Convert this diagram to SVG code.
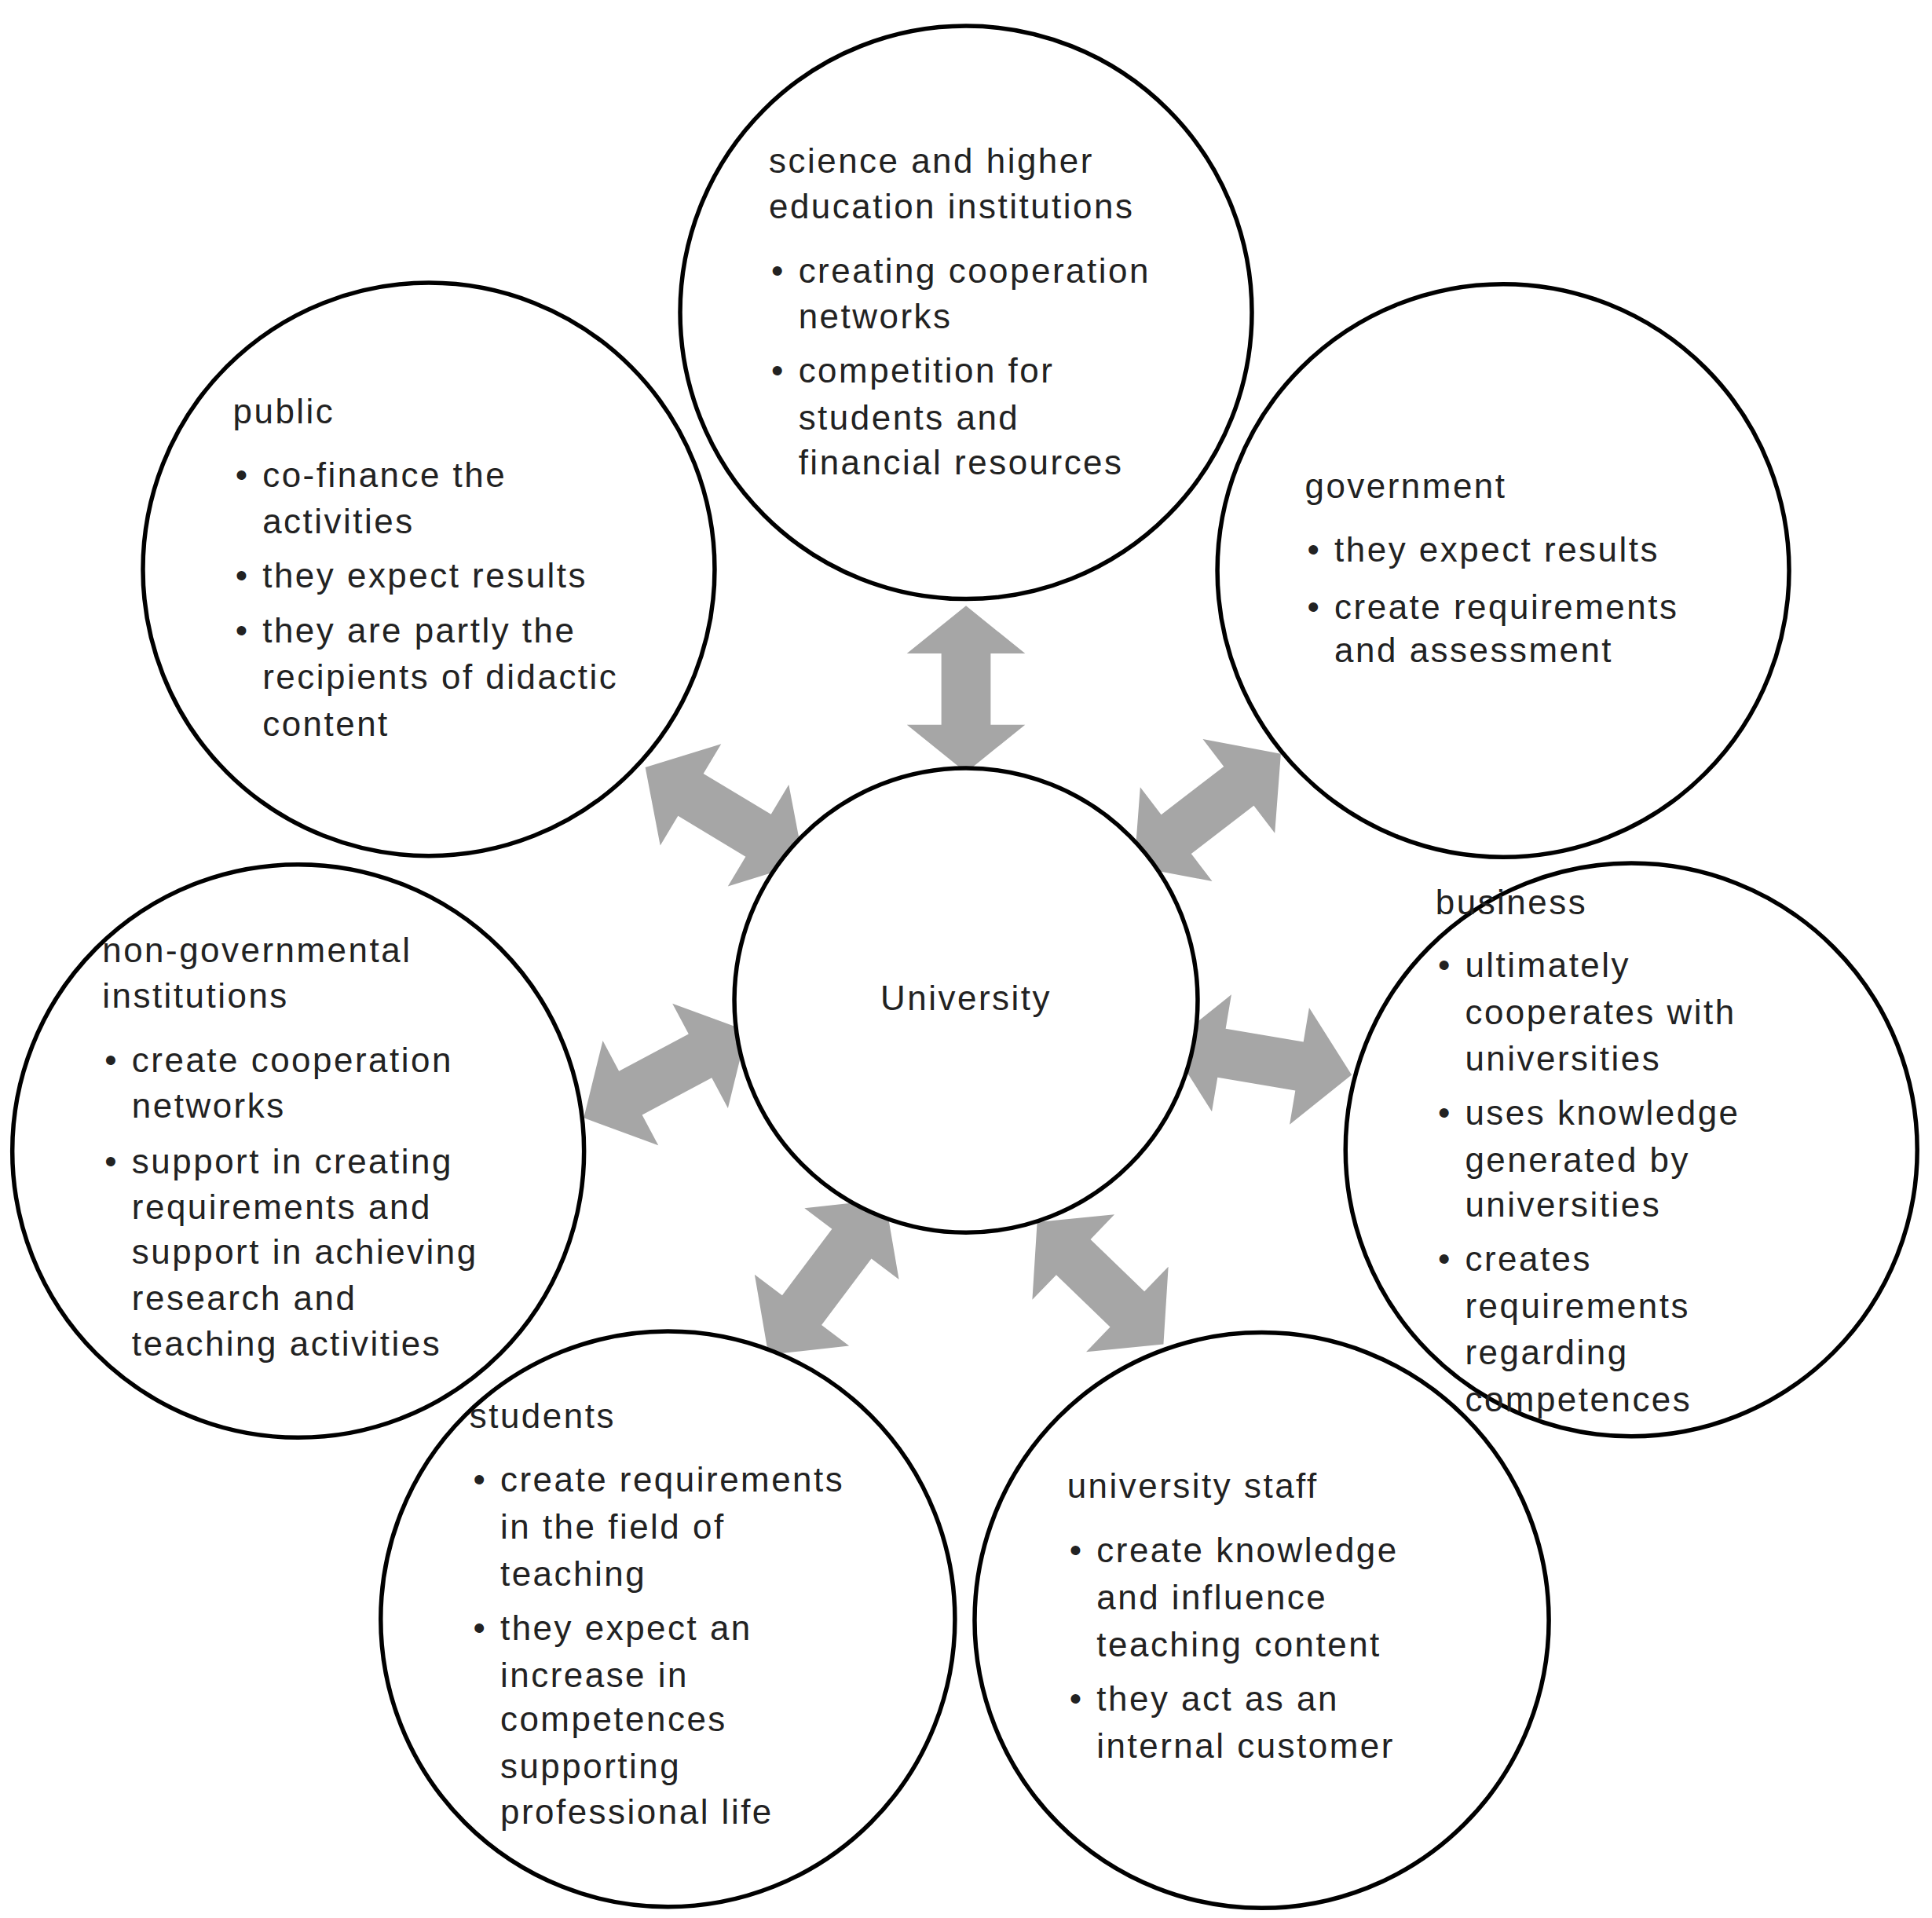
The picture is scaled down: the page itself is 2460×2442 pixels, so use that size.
<svg xmlns="http://www.w3.org/2000/svg" xmlns:xlink="http://www.w3.org/1999/xlink" width="2460" height="2442" viewBox="0 0 2460 2442">
<style>
circle{fill:#fff;stroke:#000;stroke-width:3.5}
text{font-family:"Liberation Sans",Arial,sans-serif;font-size:28px;letter-spacing:1.6px;fill:#222}
</style>
<defs>
<path id="arr" d="M-75 0 L-32 -48 L-32 -20 L32 -20 L32 -48 L75 0 L32 48 L32 20 L-32 20 L-32 48 Z" fill="#a6a6a6"/>
</defs>
<rect width="2460" height="2442" fill="#fff"/>
<g transform="scale(1.5689,1.5724)">
<g id="connectors">
<use xlink:href="#arr" transform="translate(784,558) rotate(90) scale(0.9,1)"/>
<use xlink:href="#arr" transform="translate(588,660) rotate(31)"/>
<use xlink:href="#arr" transform="translate(980,656) rotate(-37.5)"/>
<use xlink:href="#arr" transform="translate(1023,858) rotate(9.5)"/>
<use xlink:href="#arr" transform="translate(540,870) rotate(-28)"/>
<use xlink:href="#arr" transform="translate(671,1034) rotate(-53) scale(1.05,1)"/>
<use xlink:href="#arr" transform="translate(893,1039) rotate(44) scale(0.95,1)"/>
</g>
<g id="n-science"><circle cx="784" cy="253" r="232"/>
<text x="624" y="140">science and higher</text><text x="624" y="177">education institutions</text>
<text x="626" y="229">•</text><text x="648" y="229">creating cooperation</text><text x="648" y="266">networks</text>
<text x="626" y="310">•</text><text x="648" y="310">competition for</text><text x="648" y="348">students and</text><text x="648" y="384">financial resources</text></g>
<g id="n-public"><circle cx="348" cy="461" r="232"/>
<text x="189" y="343">public</text>
<text x="191" y="394">•</text><text x="213" y="394">co-finance the</text><text x="213" y="432">activities</text>
<text x="191" y="476">•</text><text x="213" y="476">they expect results</text>
<text x="191" y="520">•</text><text x="213" y="520">they are partly the</text><text x="213" y="558">recipients of didactic</text><text x="213" y="596">content</text></g>
<g id="n-government"><circle cx="1220" cy="462" r="232"/>
<text x="1059" y="403">government</text>
<text x="1061" y="455">•</text><text x="1083" y="455">they expect results</text>
<text x="1061" y="501">•</text><text x="1083" y="501">create requirements</text><text x="1083" y="536">and assessment</text></g>
<g id="n-ngo"><circle cx="242" cy="932" r="232"/>
<text x="83" y="779">non-governmental</text><text x="83" y="816">institutions</text>
<text x="85" y="868">•</text><text x="107" y="868">create cooperation</text><text x="107" y="905">networks</text>
<text x="85" y="950">•</text><text x="107" y="950">support in creating</text><text x="107" y="987">requirements and</text><text x="107" y="1023">support in achieving</text><text x="107" y="1061">research and</text><text x="107" y="1098">teaching activities</text></g>
<g id="n-business"><circle cx="1324" cy="931" r="232"/>
<text x="1165" y="740">business</text>
<text x="1167" y="791">•</text><text x="1189" y="791">ultimately</text><text x="1189" y="829">cooperates with</text><text x="1189" y="867">universities</text>
<text x="1167" y="911">•</text><text x="1189" y="911">uses knowledge</text><text x="1189" y="949">generated by</text><text x="1189" y="985">universities</text>
<text x="1167" y="1029">•</text><text x="1189" y="1029">creates</text><text x="1189" y="1067">requirements</text><text x="1189" y="1105">regarding</text><text x="1189" y="1143">competences</text></g>
<g id="n-students"><circle cx="542" cy="1311" r="233"/>
<text x="381" y="1156">students</text>
<text x="384" y="1208">•</text><text x="406" y="1208">create requirements</text><text x="406" y="1246">in the field of</text><text x="406" y="1284">teaching</text>
<text x="384" y="1328">•</text><text x="406" y="1328">they expect an</text><text x="406" y="1366">increase in</text><text x="406" y="1402">competences</text><text x="406" y="1440">supporting</text><text x="406" y="1477">professional life</text></g>
<g id="n-staff"><circle cx="1024" cy="1312" r="233"/>
<text x="866" y="1213">university staff</text>
<text x="868" y="1265">•</text><text x="890" y="1265">create knowledge</text><text x="890" y="1303">and influence</text><text x="890" y="1341">teaching content</text>
<text x="868" y="1385">•</text><text x="890" y="1385">they act as an</text><text x="890" y="1423">internal customer</text></g>
<g id="n-university"><circle cx="784" cy="810" r="188"/>
<text x="784" y="818" text-anchor="middle">University</text></g>
</g>
</svg>
